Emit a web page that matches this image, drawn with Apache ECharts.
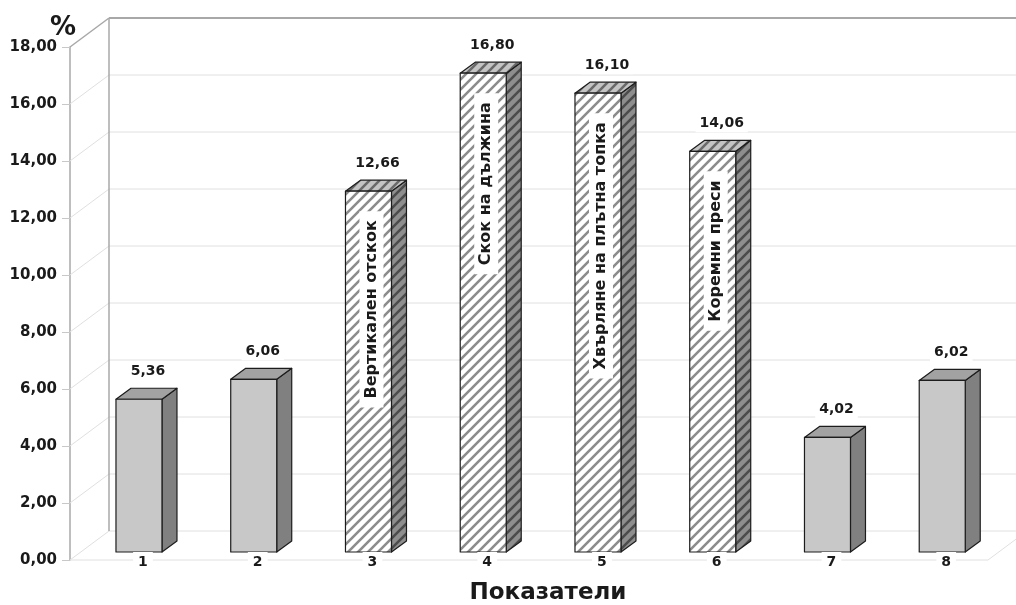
<!DOCTYPE html>
<html>
<head>
<meta charset="utf-8">
<script src="https://cdn.jsdelivr.net/npm/echarts@6/dist/echarts.min.js"></script>
<style>
  html, body { margin: 0; padding: 0; background: #fff; }
  #chart { width: 1016px; height: 605px; }
</style>
</head>
<body>
<div id="chart"></div>
<script>
// Показатели – стойности в проценти
const categories = ['1', '2', '3', '4', '5', '6', '7', '8'];
const values = [5.36, 6.06, 12.66, 16.80, 16.10, 14.06, 4.02, 6.02];
const barTitles = ['', '', 'Вертикален отскок', 'Скок на дължина', 'Хвърляне на плътна топка', 'Коремни преси', '', ''];
const hatched = [false, false, true, true, true, true, false, false];
const yMin = 0, yMax = 18, yStep = 2;

const FONT = '"DejaVu Sans", Verdana, sans-serif';
// depth of the plot box (back wall offset) and of the bar plane
const WALL_DX = 39, WALL_DY = -29;
const BAR_DX = 11.6, BAR_DY = -8;
const BAR_W = 46, DEPTH_X = 15, DEPTH_Y = -11;

function fmt(v) { return v.toFixed(2).replace('.', ','); }

function stripes(bg, fg) {
  const s = 10;
  const c = document.createElement('canvas');
  c.width = s; c.height = s;
  const g = c.getContext('2d');
  g.fillStyle = bg; g.fillRect(0, 0, s, s);
  g.strokeStyle = fg; g.lineWidth = 2.6; g.lineCap = 'square';
  g.beginPath();
  g.moveTo(-2, s + 2); g.lineTo(s + 2, -2);
  g.moveTo(-2, 2); g.lineTo(2, -2);
  g.moveTo(s - 2, s + 2); g.lineTo(s + 2, s - 2);
  g.stroke();
  return { image: c, repeat: 'repeat' };
}
const hatchFront = stripes('#ffffff', '#8c8c8c');
const hatchSide = stripes('#8e8e8e', '#4c4c4c');
const hatchTop = stripes('#c4c4c4', '#6a6a6a');

const chart = echarts.init(document.getElementById('chart'), null, { renderer: 'canvas' });

function renderWalls(params, api) {
  const cs = params.coordSys;
  const L = cs.x, R = cs.x + cs.width;
  const y = v => api.coord([0, v])[1];
  const light = { stroke: '#e0e0e0', lineWidth: 1 };
  const dark = { stroke: '#a8a8a8', lineWidth: 1.5 };
  const els = [];
  const line = (x1, y1, x2, y2, style) => els.push({ type: 'line', shape: { x1, y1, x2, y2 }, style });
  for (let v = yMin; v <= yMax; v += yStep) {
    const yy = y(v);
    const st = v === yMax ? { stroke: '#a8a8a8', lineWidth: 2 } : light;
    line(L + WALL_DX, yy + WALL_DY, R + WALL_DX, yy + WALL_DY, st);
    line(L, yy, L + WALL_DX, yy + WALL_DY, v === yMax ? dark : light);
  }
  const y0 = y(yMin), yT = y(yMax);
  line(L + WALL_DX, y0 + WALL_DY, L + WALL_DX, yT + WALL_DY, dark);
  line(R, y0, R + WALL_DX, y0 + WALL_DY, light);
  line(L, y0, R, y0, light);
  return { type: 'group', children: els };
}

function renderBar(params, api) {
  const i = api.value(0), v = api.value(1);
  const top = api.coord([i, v]);
  const base = api.coord([i, 0]);
  const cx = top[0] + BAR_DX;
  const x0 = cx - BAR_W / 2, x1 = cx + BAR_W / 2;
  const yt = top[1] + BAR_DY, yb = base[1] + BAR_DY;
  const h = hatched[params.dataIndex];
  const edge = { stroke: '#1c1c1c', lineWidth: 1.2, lineJoin: 'round' };
  const kids = [
    { type: 'polygon', shape: { points: [[x1, yt], [x1 + DEPTH_X, yt + DEPTH_Y], [x1 + DEPTH_X, yb + DEPTH_Y], [x1, yb]] },
      style: Object.assign({ fill: h ? hatchSide : '#808080' }, edge) },
    { type: 'polygon', shape: { points: [[x0, yt], [x0 + DEPTH_X, yt + DEPTH_Y], [x1 + DEPTH_X, yt + DEPTH_Y], [x1, yt]] },
      style: Object.assign({ fill: h ? hatchTop : '#a2a2a2' }, edge) },
    { type: 'rect', shape: { x: x0, y: yt, width: BAR_W, height: yb - yt },
      style: Object.assign({ fill: h ? hatchFront : '#c8c8c8' }, edge) },
    { type: 'text', x: cx + 9, y: yt - 28,
      style: { text: fmt(v), font: 'bold 14px ' + FONT, fill: '#1a1a1a', align: 'center', verticalAlign: 'middle',
               backgroundColor: '#fff', padding: [2, 4] } },
    { type: 'text', x: cx + 4, y: yb + 10,
      style: { text: categories[params.dataIndex], font: 'bold 14px ' + FONT, fill: '#1a1a1a', align: 'center', verticalAlign: 'middle',
               backgroundColor: '#fff', padding: [3, 5] } }
  ];
  const t = barTitles[params.dataIndex];
  if (t) {
    kids.push({ type: 'text', x: cx + 3, y: yt + 20, rotation: Math.PI / 2,
      style: { text: t, font: 'bold 16px ' + FONT, fill: '#1a1a1a', align: 'right', verticalAlign: 'middle',
               backgroundColor: '#fff', padding: [4, 9, 4, 9] } });
  }
  return { type: 'group', children: kids };
}

chart.setOption({
  backgroundColor: '#ffffff',
  animation: false,
  grid: { left: 70, right: 28, top: 47, bottom: 45 },
  graphic: [
    { type: 'text', x: 548, y: 593,
      style: { text: 'Показатели', font: 'bold 23px ' + FONT, fill: '#1a1a1a', align: 'center', verticalAlign: 'middle' } },
    { type: 'text', x: 63, y: 28,
      style: { text: '%', font: 'bold 26px ' + FONT, fill: '#1a1a1a', align: 'center', verticalAlign: 'middle' } }
  ],
  xAxis: {
    type: 'category', data: categories,
    axisLine: { show: false }, axisTick: { show: false }, axisLabel: { show: false }, splitLine: { show: false }
  },
  yAxis: {
    type: 'value', min: yMin, max: yMax, interval: yStep,
    axisLine: { show: true, lineStyle: { color: '#a8a8a8', width: 1.5 } },
    axisTick: { show: true, length: 8, lineStyle: { color: '#c8c8c8' } },
    splitLine: { show: false },
    axisLabel: { margin: 13, formatter: v => fmt(v), fontFamily: FONT, fontSize: 15, fontWeight: 'bold', color: '#1a1a1a' }
  },
  series: [
    { type: 'custom', renderItem: renderWalls, data: [[0, 0]], z: 1, silent: true, clip: false },
    { type: 'custom', renderItem: renderBar, data: values.map((v, i) => [i, v]), z: 3, clip: false }
  ]
});
</script>
</body>
</html>
